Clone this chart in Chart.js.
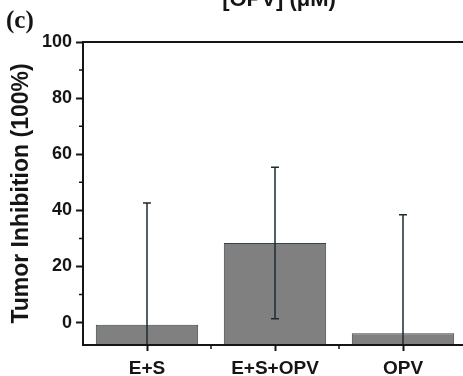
<!DOCTYPE html>
<html>
<head>
<meta charset="utf-8">
<script src="https://cdn.jsdelivr.net/npm/chart.js@4.4.0/dist/chart.umd.min.js"></script>
<style>
  body { margin: 0; background: #fff; overflow: hidden; }
  #wrap { width: 463px; height: 376px; overflow: hidden; }
</style>
</head>
<body>
<div id="wrap"><canvas id="inhibitionChart" width="470" height="376"></canvas></div>
<script>
const groups = ["E+S", "E+S+OPV", "OPV"];
const inhibition = [-0.8, 28.4, -3.8];
const inhibitionSD = [43.4, 27.0, 42.2];
const yTicks = [0, 20, 40, 60, 80, 100];
const yMinorTicks = [10, 30, 50, 70, 90];
const Y_MIN = -8;
const Y_MAX = 100;

const INK = "#151515";

// error bars, frame, minor ticks and the panel labels
const decorPlugin = {
  id: "decor",
  afterDatasetsDraw(chart) {
    const { ctx, chartArea: a, scales: { x, y } } = chart;
    ctx.save();
    ctx.beginPath();
    ctx.rect(a.left, a.top, a.right - a.left, a.bottom - a.top);
    ctx.clip();
    ctx.strokeStyle = "#1e2a30";
    ctx.lineWidth = 1.5;
    inhibition.forEach((v, i) => {
      const cx = x.getPixelForValue(i);
      const hi = y.getPixelForValue(v + inhibitionSD[i]);
      const lo = y.getPixelForValue(v - inhibitionSD[i]);
      ctx.beginPath();
      ctx.moveTo(cx, hi); ctx.lineTo(cx, lo);
      ctx.moveTo(cx - 4, hi); ctx.lineTo(cx + 4, hi);
      ctx.moveTo(cx - 4, lo); ctx.lineTo(cx + 4, lo);
      ctx.stroke();
    });
    ctx.restore();
  },
  afterDraw(chart) {
    const { ctx, chartArea: a, scales: { x, y } } = chart;
    ctx.save();
    ctx.strokeStyle = INK;
    ctx.lineWidth = 2;
    ctx.beginPath();
    ctx.moveTo(a.left, a.top); ctx.lineTo(a.right, a.top); ctx.lineTo(a.right, a.bottom);
    ctx.moveTo(a.left, a.top); ctx.lineTo(a.left, a.bottom); ctx.lineTo(a.right, a.bottom);
    ctx.stroke();

    ctx.lineWidth = 1.5;
    ctx.beginPath();
    yMinorTicks.forEach(v => {
      const py = y.getPixelForValue(v);
      ctx.moveTo(a.left - 4, py); ctx.lineTo(a.left, py);
    });
    for (let i = 0; i < groups.length - 1; i++) {
      const px = (x.getPixelForValue(i) + x.getPixelForValue(i + 1)) / 2;
      ctx.moveTo(px, a.bottom); ctx.lineTo(px, a.bottom + 4);
    }
    ctx.stroke();

    ctx.fillStyle = INK;
    ctx.textBaseline = "alphabetic";
    ctx.textAlign = "left";
    ctx.font = "bold 25px 'Liberation Serif'";
    ctx.fillText("(c)", 6, 28);
    ctx.textAlign = "center";
    ctx.font = "bold 22px 'Liberation Sans'";
    ctx.fillText("[OPV] (\u03bcM)", 279, 6);
    ctx.restore();
  }
};

new Chart(document.getElementById("inhibitionChart"), {
  type: "bar",
  data: {
    labels: groups,
    datasets: [{
      data: inhibition,
      base: Y_MIN,
      backgroundColor: "#808080",
      borderColor: "#34444c",
      borderWidth: 1,
      borderSkipped: false,
      barPercentage: 0.8,
      categoryPercentage: 1.0
    }]
  },
  options: {
    responsive: false,
    animation: false,
    layout: { padding: { top: 42, right: 3, bottom: 0, left: 0 } },
    plugins: { legend: { display: false }, tooltip: { enabled: false } },
    scales: {
      x: {
        offset: true,
        afterFit(scale) { scale.height = 31; },
        grid: { offset: false, drawOnChartArea: false, tickLength: 6, tickWidth: 2, tickColor: INK },
        border: { width: 2, color: INK },
        ticks: { color: INK, padding: 6, font: { family: "Liberation Sans", size: 19, weight: "bold" } }
      },
      y: {
        min: Y_MIN,
        max: Y_MAX,
        afterFit(scale) { scale.width = 83; },
        afterBuildTicks(scale) { scale.ticks = yTicks.map(v => ({ value: v })); },
        grid: { drawOnChartArea: false, tickLength: 7, tickWidth: 2, tickColor: INK },
        border: { width: 2, color: INK },
        ticks: { color: INK, padding: 4, font: { family: "Liberation Sans", size: 18, weight: "bold" } },
        title: {
          display: true,
          text: "Tumor Inhibition (100%)",
          color: INK,
          padding: { top: 8, bottom: 0 },
          font: { family: "Liberation Sans", size: 23, weight: "bold" }
        }
      }
    }
  },
  plugins: [decorPlugin]
});
</script>
</body>
</html>
